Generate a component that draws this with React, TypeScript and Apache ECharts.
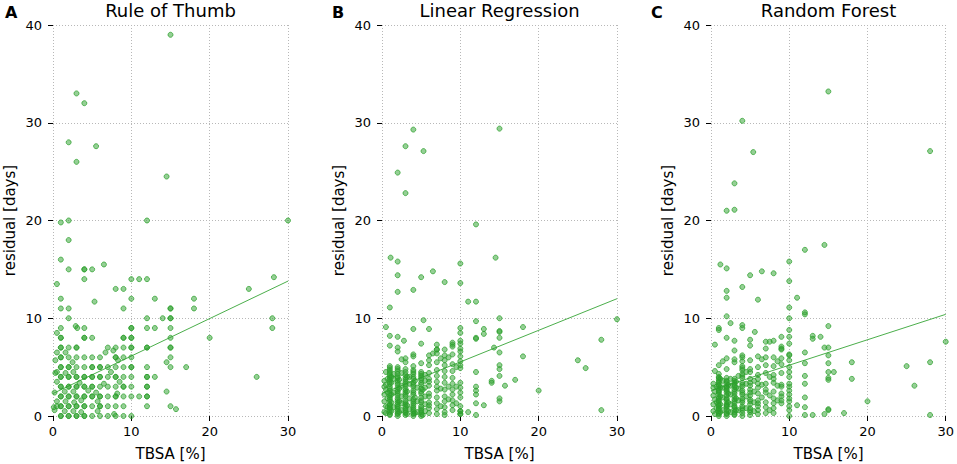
import React, { useEffect, useRef } from "react";
import * as echarts from "echarts";

const panelTitles = ["Rule of Thumb", "Linear Regression", "Random Forest"];
const panelLetters = ["A", "B", "C"];
const xAxisName = "TBSA [%]";
const yAxisName = "residual [days]";
const xRange = [0, 30];
const yRange = [0, 40];

const ruleOfThumbPoints: number[][] = [
  [15, 39], [3, 33], [4, 32], [2, 28], [5.5, 27.6], [3, 26], [14.5, 24.5], [1, 19.8], [2, 20], [12, 20], [30, 20],
  [2, 18], [1, 16], [2, 15], [4, 15], [4, 15], [5, 15], [6.5, 15.5], [4, 14], [0.5, 13.5], [10, 14], [11, 14], [12, 14],
  [8, 13], [9, 13], [28.2, 14.2], [25, 13], [1, 12], [5.3, 11.7], [10, 12], [13, 12], [18, 12], [1, 11], [2, 11], [9, 11],
  [15, 11], [15, 11], [18, 11], [2, 10], [12, 10], [14, 10], [15, 10], [15, 10], [28, 10], [0.5, 8.5], [1, 9], [2.9, 9.2],
  [3.1, 9], [4, 9], [10, 9], [10, 9], [12, 9], [13, 9], [15, 9], [28, 9], [1, 8], [1, 8], [4, 8], [4, 8], [5, 8], [9, 8],
  [9, 8], [10, 8], [10, 8], [15, 8], [20, 8],
  [26, 4], [17, 5], [15, 5], [15, 6], [15, 7], [15, 7], [12, 7], [12, 7], [14.5, 5.5], [12, 5], [12, 4], [12, 4], [13, 4],
  [12, 3], [12, 3], [12, 2], [12, 2], [11, 2], [12, 1], [14.5, 2.5], [15, 1], [15.7, 0.7], [10, 0],
  [1, 7], [1, 7], [2, 7], [3, 7], [3, 7], [7, 7], [8, 7], [9, 7], [10, 7], [10, 7],
  [0.5, 6.5], [1.6, 6.5], [6.7, 6.5], [7.7, 6.7],
  [1, 6], [1, 6], [2, 6], [3, 6], [4, 6], [5, 6], [6, 6], [8, 6], [8, 6], [9, 6], [10, 6],
  [0.3, 5.7], [2.5, 5.5], [8.3, 5.7],
  [1, 5], [1, 5], [2, 5], [2, 5], [3, 5], [4, 5], [5, 5], [5, 5], [6, 5], [6, 5], [7, 5], [8, 5], [9, 5], [10, 5], [10, 5],
  [0.5, 4.5], [1.6, 4.4], [2.6, 4.5], [7.4, 4.5],
  [1, 4], [1, 4], [2, 4], [2, 4], [3, 4], [3, 4], [4, 4], [4, 4], [5, 4], [5, 4], [6, 4], [6, 4], [7, 4], [8, 4], [8, 4], [9, 4], [10, 4],
  [0.5, 3.5], [3.4, 3.4], [8.5, 3.5], [6.5, 3.3],
  [1, 3], [1, 3], [2, 3], [2, 3], [3, 3], [3, 3], [4, 3], [4, 3], [5, 3], [5, 3], [6, 3], [7, 3], [8, 3], [9, 3], [9, 3], [10, 3],
  [1.5, 2.5], [2.6, 2.5], [4.5, 2.6], [5.5, 2.4], [8.2, 2.3],
  [1, 2], [1, 2], [2, 2], [2, 2], [3, 2], [3, 2], [4, 2], [4, 2], [5, 2], [5, 2], [6, 2], [6, 2], [7, 2], [8, 2], [8, 2], [9, 2], [10, 2],
  [0.5, 1.5], [1.6, 1.5], [2.7, 1.4], [3.6, 1.6], [5.7, 1.5],
  [0.5, 1], [1, 1], [1, 1], [2, 1], [2, 1], [3, 1], [3, 1], [4, 1], [4, 1], [5, 1], [6, 1], [6, 1], [7, 1], [8, 1], [9, 1],
  [0.2, 0.6], [1.5, 0.5], [2.6, 0.5], [3.6, 0.4], [5.7, 0.5],
  [1, 0], [1, 0], [2, 0], [2, 0], [3, 0], [3, 0], [4, 0], [4, 0], [5, 0], [6, 0], [7, 0], [7.8, 0.2], [8, 0], [9, 0],
  [0.1, 0.9], [0.2, 2.4], [0.3, 4.4],
];

const linearRegressionPoints: number[][] = [
  [4, 29.3], [15, 29.4], [3, 27.6], [5.3, 27.1], [2, 24.9], [3, 22.8], [12, 19.6], [1.1, 16.2], [2, 15.8], [14.5, 16.2],
  [10, 15.6], [2, 14.4], [5, 14.2], [6.5, 14.8], [8, 13.7], [10, 13.6], [4, 12.9], [2, 12.7], [11, 11.7], [12, 11.7],
  [1, 11.1], [0.5, 9.1], [5.3, 9.8], [12, 9.7], [15, 10], [30, 9.9], [4, 8.9], [6, 8.9], [10, 9], [13, 8.9], [15, 8.7],
  [15, 8.6], [18, 9.1], [1, 8.2], [2, 8.1], [12, 8], [12, 7.9], [10, 8.5], [13, 8.4], [15, 8], [28, 7.8], [2.8, 7.7], [5, 7.4],
  [7, 7.3], [9, 7.5], [9, 7.3], [10, 7.4], [1, 7.2], [2, 7], [2, 6.6], [6.5, 6.4], [7, 6.8], [8, 6.8], [14.3, 7.0], [15, 6.5],
  [10, 6.6], [18, 6.1], [25, 5.7], [26, 4.9], [12, 4.5], [15, 5.2], [15, 4.8], [15, 4.1], [17, 3.7], [14, 3.6], [14, 3.4],
  [15.7, 3.1], [20, 2.6], [12, 2.6], [12, 3.0], [12, 2.2], [13, 1.1], [12, 1.3], [15, 1.8], [15, 1.5], [11, 0.4], [12, 0.1],
  [28, 0.6], [10, 0.2], [10, 0.5],
  [0.3, 0.4], [0.3, 1.5], [0.3, 2.2], [0.3, 3.0], [0.3, 3.6],
  [0.5, 0.3], [0.5, 1.0], [0.5, 2.7], [0.5, 4.5], [0.5, 3.2],
  [0.7, 0.9], [0.7, 1.8], [0.7, 2.4], [0.7, 3.8],
  [1, 0.1], [1, 0.4], [1, 0.8], [1, 1.2], [1, 1.5], [1, 1.9], [1, 2.3], [1, 2.6], [1, 3.0], [1, 3.3], [1, 3.7], [1, 4.1],
  [1, 4.5], [1, 4.9], [1, 5.1], [1, 2.1], [1, 0.6], [1, 1.1], [1, 3.5], [1, 0.2], [1, 0.9], [1, 1.7], [1, 2.8], [1, 3.9],
  [1, 4.3], [1, 4.7],
  [1.2, 0.5], [1.2, 1.4], [1.2, 2.2], [1.2, 3.4], [1.2, 4.0],
  [1.5, 0.9], [1.5, 2.4], [1.5, 3.8], [1.5, 4.3],
  [2, 0.0], [2, 0.3], [2, 0.7], [2, 1.0], [2, 1.4], [2, 1.8], [2, 2.1], [2, 2.5], [2, 2.9], [2, 3.2], [2, 3.6], [2, 4.0],
  [2, 4.3], [2, 4.6], [2, 5.0], [2, 1.2], [2, 2.7], [2, 3.9], [2, 0.5], [2, 0.2], [2, 0.9], [2, 1.6], [2, 2.3], [2, 3.4],
  [2, 4.8],
  [2.2, 0.4], [2.2, 1.5], [2.2, 2.8], [2.2, 3.7],
  [2.5, 0.6], [2.5, 1.3], [2.5, 2.0], [2.5, 3.1], [2.5, 4.4], [2.5, 5.8],
  [3, 0.1], [3, 0.4], [3, 0.8], [3, 1.2], [3, 1.6], [3, 2.0], [3, 2.4], [3, 2.8], [3, 3.1], [3, 3.5], [3, 3.9], [3, 4.2],
  [3, 4.8], [3, 5.5], [3, 5.9], [3, 1.0], [3, 2.6], [3, 0.3], [3, 0.6], [3, 1.4], [3, 2.2], [3, 3.3], [3, 3.7], [3, 4.5],
  [3.2, 0.2], [3.2, 1.1], [3.2, 2.5], [3.2, 4.0],
  [3.5, 0.7], [3.5, 1.8], [3.5, 3.3], [3.5, 4.0],
  [4, 0.0], [4, 0.2], [4, 0.5], [4, 0.9], [4, 1.3], [4, 1.7], [4, 2.2], [4, 2.6], [4, 3.0], [4, 3.4], [4, 3.8], [4, 4.3],
  [4, 4.7], [4, 5.1], [4, 6.1], [4, 6.3], [4, 0.3], [4, 1.1], [4, 0.7], [4, 1.5], [4, 2.4], [4, 3.2], [4, 4.0], [4, 4.5],
  [4.2, 0.3], [4.2, 1.9], [4.2, 3.6],
  [4.5, 0.4], [4.5, 1.5], [4.5, 2.9],
  [5, 0.0], [5, 0.2], [5, 0.6], [5, 1.0], [5, 1.4], [5, 1.9], [5, 2.3], [5, 2.8], [5, 3.2], [5, 3.7], [5, 4.1], [5, 4.5],
  [5, 5.4], [5, 0.4], [5, 0.8], [5, 1.6], [5, 2.5], [5, 3.4], [5, 3.9], [5, 4.3],
  [5.2, 0.1], [5.2, 2.7],
  [5.5, 0.5], [5.5, 1.2], [5.5, 2.0], [5.5, 2.9], [5.5, 3.6], [5.5, 4.2],
  [6, 0.3], [6, 0.8], [6, 1.4], [6, 2.3], [6, 3.1], [6, 3.8], [6, 4.4], [6, 5.2], [6, 5.7], [6, 6.2], [6, 1.1], [6, 2.0], [6, 3.5],
  [7, 0.2], [7, 0.7], [7, 1.3], [7, 1.9], [7, 2.6], [7, 3.0], [7, 3.5], [7, 4.1], [7, 4.7], [7, 5.5], [7, 6.4], [7, 6.8],
  [7.5, 1.0], [7.5, 2.8], [7.5, 5.9],
  [8, 0.1], [8, 0.4], [8, 0.9], [8, 1.5], [8, 2.0], [8, 2.7], [8, 3.4], [8, 4.0], [8, 4.6], [8, 5.2], [8, 5.7], [8, 6.2],
  [8.5, 1.7], [8.5, 3.0], [8.5, 6.0],
  [9, 0.6], [9, 1.1], [9, 1.6], [9, 2.2], [9, 2.7], [9, 3.3], [9, 3.9], [9, 4.6], [9, 5.3], [9, 6.3], [9, 7.1],
  [9.5, 1.3], [9.5, 3.0], [9.5, 5.0],
  [10, 0.2], [10, 0.5], [10, 1.0], [10, 1.9], [10, 2.4], [10, 2.9], [10, 3.4], [10, 4.9], [10, 5.2], [10, 5.6], [10, 6.1],
  [10, 6.9], [10, 7.7],
];

const randomForestPoints: number[][] = [
  [15, 33.2], [4, 30.2], [5.4, 27.0], [28, 27.1], [3, 23.8], [2, 21], [3, 21.1], [12, 17], [14.5, 17.5], [1.2, 15.5],
  [2, 15.1], [6.5, 14.8], [8, 14.6], [5, 14.4], [10, 15.8], [10, 13.8], [4, 13.2], [2, 12.8], [2, 12.1], [11, 12.1],
  [6, 11.9], [10, 11.1], [12, 10.6], [12, 10.4], [2, 10.2], [10, 10], [15, 9.2], [2.5, 9.5], [4, 9.3], [4, 9], [1, 9],
  [1, 8.8], [5.6, 8.6], [10, 8.8], [13, 8.2], [14, 8.1], [13, 7.9], [5, 7.8], [3, 7.7], [2, 8.0], [7, 7.6], [7.5, 7.6],
  [8, 7.7], [9, 8.1], [10, 8.1], [0.5, 7.3], [5, 7.2], [10, 7.4], [14.5, 7.0], [15, 7.0], [3, 6.7], [9, 6.8], [12, 6.5],
  [15, 6.2], [10, 6.2], [18, 5.5], [28, 5.5], [25, 5.1], [15, 5.4], [12, 5.4], [15.7, 4.5], [15, 4.5], [15, 3.9], [15, 3.7],
  [18, 3.8], [26, 3.1], [12, 4.1], [12, 3.3], [20, 1.5], [11, 1.1], [12, 1.9], [12, 0.9], [13, 0.1], [15, 0.7], [15, 0.6],
  [14.5, 0.2], [17, 0.3], [12, 0.1], [28, 0.1], [30, 7.6],
  [0.3, 0.5], [0.3, 1.2], [0.3, 2.1], [0.3, 2.9], [0.3, 3.3],
  [0.5, 0.2], [0.5, 1.7], [0.5, 2.5], [0.5, 4.6],
  [0.7, 0.8], [0.7, 1.4], [0.7, 3.0],
  [1, 0.0], [1, 0.2], [1, 0.5], [1, 0.8], [1, 1.0], [1, 1.3], [1, 1.6], [1, 1.9], [1, 2.2], [1, 2.5], [1, 2.8], [1, 3.1],
  [1, 3.4], [1, 3.7], [1, 4.0], [1, 4.3], [1, 0.7], [1, 1.5], [1, 2.4], [1, 3.2], [1, 5.2], [1, 0.3], [1, 1.1], [1, 1.8],
  [1, 2.6], [1, 3.5], [1, 3.9],
  [1.2, 0.4], [1.2, 1.2], [1.2, 2.0], [1.2, 2.9], [1.2, 3.8],
  [1.5, 0.6], [1.5, 1.9], [1.5, 2.9], [1.5, 3.6], [1.5, 5.6],
  [2, 0.0], [2, 0.3], [2, 0.6], [2, 0.9], [2, 1.2], [2, 1.5], [2, 1.8], [2, 2.1], [2, 2.4], [2, 2.7], [2, 3.0], [2, 3.3],
  [2, 3.6], [2, 3.9], [2, 4.8], [2, 5.9], [2, 1.1], [2, 2.6], [2, 0.2], [2, 1.0], [2, 1.7], [2, 2.9], [2, 3.5],
  [2.2, 0.5], [2.2, 1.4], [2.2, 2.3], [2.2, 3.2],
  [2.5, 0.4], [2.5, 1.2], [2.5, 2.2], [2.5, 3.1], [2.5, 3.8],
  [3, 0.1], [3, 0.4], [3, 0.7], [3, 1.0], [3, 1.3], [3, 1.7], [3, 2.0], [3, 2.3], [3, 2.7], [3, 3.0], [3, 3.4], [3, 3.8],
  [3, 5.5], [3, 5.8], [3, 0.9], [3, 0.2], [3, 1.5], [3, 2.5], [3, 3.2], [3, 3.6],
  [3.2, 0.6], [3.2, 1.8], [3.2, 2.9], [3.2, 3.5],
  [3.5, 0.6], [3.5, 1.6], [3.5, 2.8], [3.5, 4.1],
  [4, 0.0], [4, 0.3], [4, 0.6], [4, 1.0], [4, 1.4], [4, 1.8], [4, 2.2], [4, 2.6], [4, 3.0], [4, 3.4], [4, 3.9], [4, 4.3],
  [4, 4.7], [4, 5.1], [4, 5.6], [4, 6.0], [4, 6.2], [4, 0.8], [4, 1.6], [4, 2.4], [4, 3.2], [4, 4.1], [4, 4.9],
  [4.5, 0.8], [4.5, 2.0], [4.5, 3.3], [4.5, 4.5],
  [5, 0.1], [5, 0.4], [5, 0.8], [5, 1.2], [5, 1.7], [5, 2.1], [5, 2.7], [5, 3.1], [5, 3.8], [5, 4.5], [5, 4.8], [5, 5.7],
  [5, 0.6], [5, 1.5], [5, 2.4], [5, 3.4],
  [5.5, 0.5], [5.5, 1.4], [5.5, 2.5], [5.5, 3.6],
  [6, 0.2], [6, 0.6], [6, 1.0], [6, 1.6], [6, 2.3], [6, 2.9], [6, 3.8], [6, 4.2], [6, 5.0], [6, 6.1], [6, 1.3], [6, 3.3],
  [6.5, 1.9], [6.5, 3.2], [6.5, 5.8],
  [7, 0.3], [7, 0.9], [7, 1.4], [7, 2.4], [7, 2.7], [7, 3.3], [7, 4.4], [7, 5.2], [7, 6.0], [7, 6.9],
  [7.5, 0.6], [7.5, 2.1], [7.5, 4.0],
  [8, 0.3], [8, 0.8], [8, 1.3], [8, 1.8], [8, 2.5], [8, 3.4], [8, 3.8], [8, 4.2], [8, 5.1], [8, 6.0],
  [8.5, 1.6], [8.5, 3.1], [8.5, 5.6],
  [9, 1.3], [9, 1.6], [9, 2.0], [9, 2.3], [9, 3.0], [9, 3.2], [9, 4.4], [9, 5.3], [9, 5.9], [9, 6.9], [9, 7.1],
  [10, 0.0], [10, 0.6], [10, 1.0], [10, 1.5], [10, 1.8], [10, 2.2], [10, 2.6], [10, 3.0], [10, 3.3], [10, 4.0], [10, 4.5],
  [10, 5.0], [10, 5.7], [10, 6.3],
];

const ruleOfThumbTrend: number[][] = [[0, 2.3], [30, 13.8]];
const linearRegressionTrend: number[][] = [[0, 2.3], [30, 12.0]];
const randomForestTrend: number[][] = [[0, 2.6], [30, 10.4]];

const panelPoints = [ruleOfThumbPoints, linearRegressionPoints, randomForestPoints];
const panelTrends = [ruleOfThumbTrend, linearRegressionTrend, randomForestTrend];

const FONT = "DejaVu Sans";
const gridLefts = [53, 382, 711];
const gridTop = 25;
const gridW = 235;
const gridH = 391;
const yLabelX = [10, 339, 668];
const letterX = [5, 332, 651];

export default function App() {
  const ref = useRef<HTMLDivElement>(null);
  useEffect(() => {
    document.body.style.margin = "0";
    if (!ref.current) return;
    const chart = echarts.init(ref.current, undefined, { renderer: "svg" });
    const grid = gridLefts.map((l) => ({ left: l, top: gridTop, width: gridW, height: gridH }));
    const splitLine = { show: true, lineStyle: { type: [1, 2] as any, color: "#b8b8b8", width: 1 } };
    const tick = { show: true, length: 5, inside: false, lineStyle: { color: "#000", width: 1 } };
    const xAxis = gridLefts.map((_, i) => ({
      type: "value" as const,
      gridIndex: i,
      min: xRange[0],
      max: xRange[1],
      interval: 10,
      axisLine: { show: false },
      axisTick: tick,
      axisLabel: { fontSize: 13, color: "#000", margin: 9, fontFamily: FONT },
      splitLine,
    }));
    const yAxis = gridLefts.map((_, i) => ({
      type: "value" as const,
      gridIndex: i,
      min: yRange[0],
      max: yRange[1],
      interval: 10,
      axisLine: { show: false },
      axisTick: tick,
      axisLabel: { fontSize: 13, color: "#000", margin: 11, fontFamily: FONT },
      splitLine,
    }));
    const series: any[] = [];
    panelPoints.forEach((pts, i) => {
      series.push({
        type: "scatter",
        xAxisIndex: i,
        yAxisIndex: i,
        data: pts,
        symbolSize: 5,
        itemStyle: {
          color: "rgba(44,160,44,0.5)",
          borderColor: "rgba(44,160,44,0.75)",
          borderWidth: 1,
          opacity: 1,
        },
        z: 2,
      });
      series.push({
        type: "line",
        xAxisIndex: i,
        yAxisIndex: i,
        data: panelTrends[i],
        showSymbol: false,
        symbol: "none",
        lineStyle: { color: "rgba(44,160,44,0.85)", width: 1 },
        z: 3,
      });
    });
    const graphic: any[] = [];
    gridLefts.forEach((l, i) => {
      graphic.push({
        type: "text",
        x: l + gridW / 2,
        y: 10,
        style: { text: panelTitles[i], fontSize: 18, fontFamily: FONT, fill: "#000", align: "center", verticalAlign: "middle" },
      });
      graphic.push({
        type: "text",
        x: letterX[i],
        y: 12,
        style: { text: panelLetters[i], fontSize: 16, fontWeight: "bold", fontFamily: FONT, fill: "#000", align: "left", verticalAlign: "middle" },
      });
      graphic.push({
        type: "text",
        x: l + gridW / 2,
        y: 454,
        style: { text: xAxisName, fontSize: 15, fontFamily: FONT, fill: "#000", align: "center", verticalAlign: "middle" },
      });
      graphic.push({
        type: "text",
        x: yLabelX[i],
        y: gridTop + gridH / 2,
        rotation: Math.PI / 2,
        style: { text: yAxisName, fontSize: 15, fontFamily: FONT, fill: "#000", align: "center", verticalAlign: "middle" },
      });
    });
    chart.setOption({
      animation: false,
      textStyle: { fontFamily: FONT },
      grid,
      xAxis,
      yAxis,
      series,
      graphic,
    });
    return () => chart.dispose();
  }, []);
  return <div ref={ref} style={{ width: 957, height: 464 }} />;
}
